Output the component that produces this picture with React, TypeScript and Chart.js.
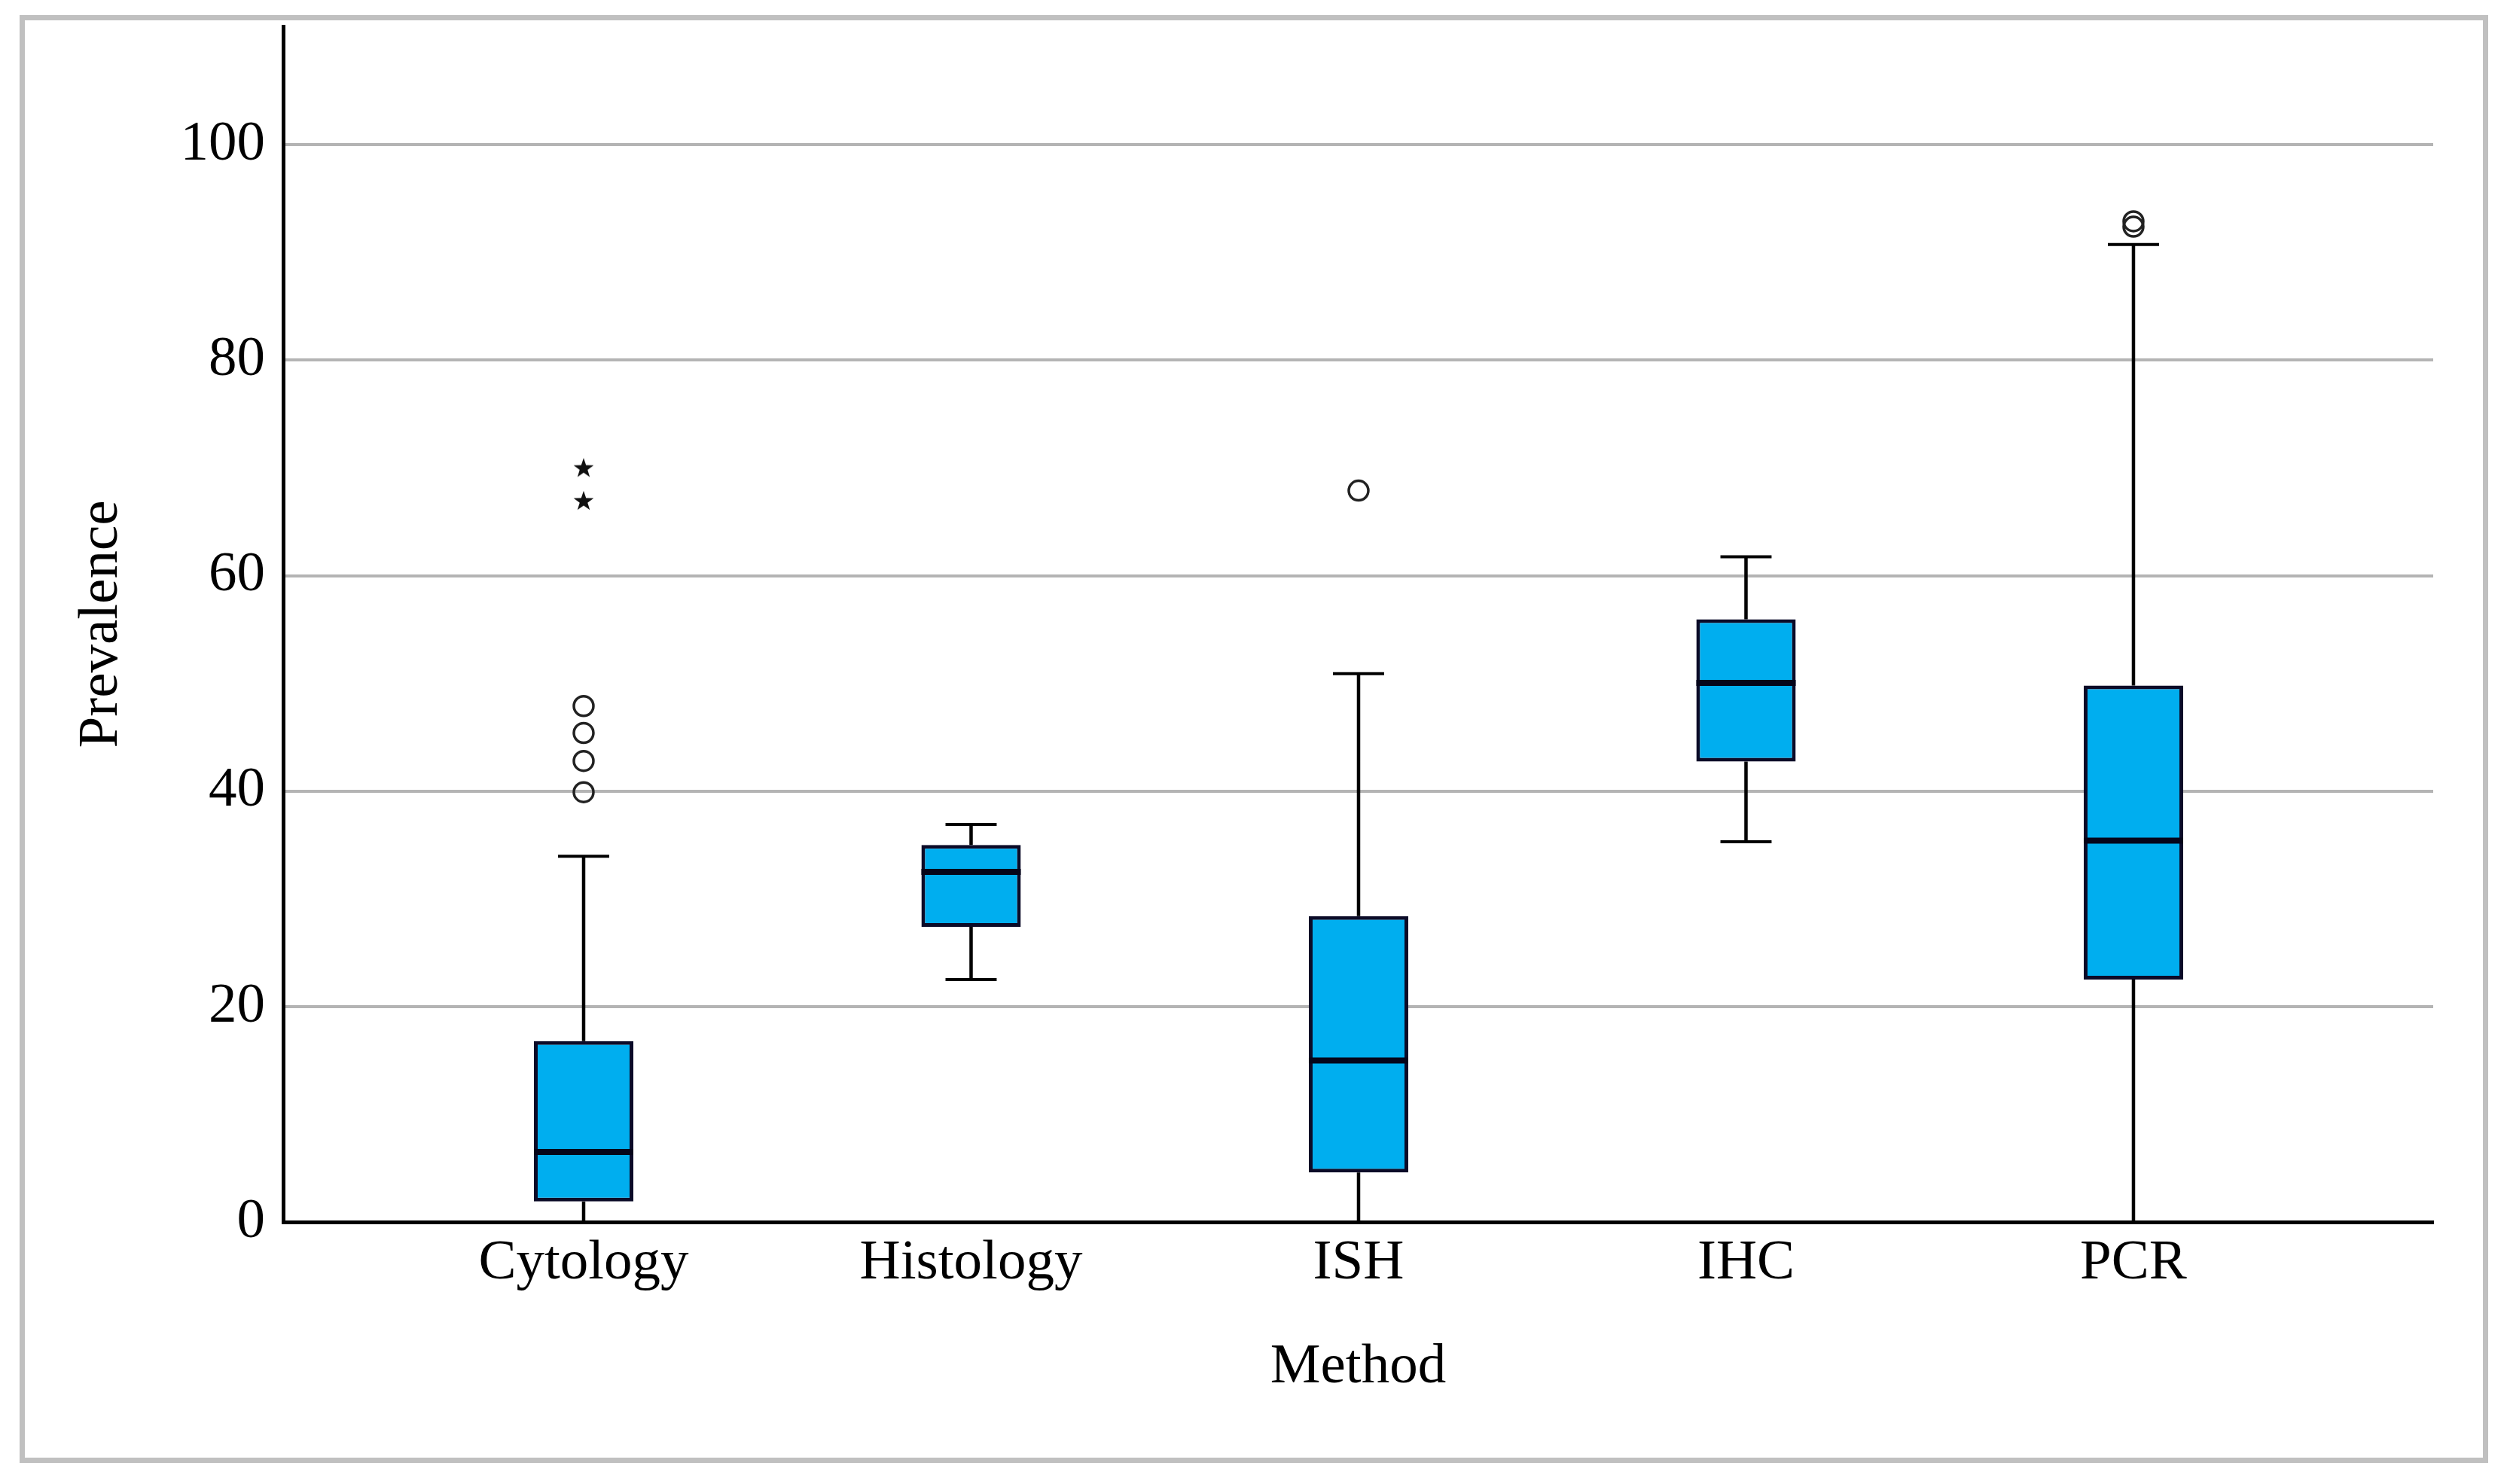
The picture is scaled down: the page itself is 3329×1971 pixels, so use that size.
import React, { useEffect, useRef } from "react";
import { Chart, registerables } from "chart.js";

Chart.register(...registerables);

// ---- data ----
const categories = ["Cytology", "Histology", "ISH", "IHC", "PCR"];
const whiskerLow = [0, 22.5, 0, 35.3, 0];
const q1 = [1.9, 27.4, 4.6, 42.75, 22.5];
const median = [6.5, 32.5, 15.0, 50.05, 35.4];
const q3 = [16.8, 35.0, 28.4, 55.95, 49.8];
const whiskerHigh = [33.95, 36.9, 50.9, 61.75, 90.75];
const outlierCategory = [0, 0, 0, 0, 2, 4, 4];
const outlierValues = [47.9, 45.4, 42.8, 39.9, 67.9, 92.9, 92.4];
const extremeCategory = [0, 0];
const extremeValues = [69.95, 66.9];
const yTicks = [0, 20, 40, 60, 80, 100];

const FONT = "'Palatino Linotype', 'Book Antiqua', Palatino, P052, 'URW Palladio L', 'Liberation Serif', serif";
const BOX_FRACTION = 0.2566;
const BOX_HALF = BOX_FRACTION / 2;
const CAP_HALF = 0.066;

function makeStar(): HTMLCanvasElement {
  const c = document.createElement("canvas");
  c.width = 32;
  c.height = 32;
  const g = c.getContext("2d")!;
  g.fillStyle = "#111";
  g.beginPath();
  for (let k = 0; k < 10; k++) {
    const r = k % 2 === 0 ? 14 : 5.5;
    const a = -Math.PI / 2 + (k * Math.PI) / 5;
    const px = 16 + r * Math.cos(a);
    const py = 16 + r * Math.sin(a);
    if (k === 0) g.moveTo(px, py);
    else g.lineTo(px, py);
  }
  g.closePath();
  g.fill();
  return c;
}

export default function App() {
  const ref = useRef<HTMLCanvasElement | null>(null);

  useEffect(() => {
    if (!ref.current) return;
    const boxData = categories.map((_, i) => ({ x: i, y: [q1[i], q3[i]] }));
    const whiskerData = categories.flatMap((_, i) => [
      { x: i, y: q3[i] },
      { x: i, y: whiskerHigh[i] },
      { x: i, y: null },
      { x: i, y: q1[i] },
      { x: i, y: whiskerLow[i] },
      { x: i, y: null },
    ]);
    const capData = categories.flatMap((_, i) => [
      { x: i - CAP_HALF, y: whiskerHigh[i] },
      { x: i + CAP_HALF, y: whiskerHigh[i] },
      { x: i, y: null },
      { x: i - CAP_HALF, y: whiskerLow[i] },
      { x: i + CAP_HALF, y: whiskerLow[i] },
      { x: i, y: null },
    ]);
    const medianData = categories.flatMap((_, i) => [
      { x: i - BOX_HALF, y: median[i] },
      { x: i + BOX_HALF, y: median[i] },
      { x: i, y: null },
    ]);
    const outlierData = outlierValues.map((v, k) => ({ x: outlierCategory[k], y: v }));
    const extremeData = extremeValues.map((v, k) => ({ x: extremeCategory[k], y: v }));
    const star = makeStar();

    const chart = new Chart(ref.current, {
      type: "bar",
      data: {
        datasets: [
          {
            type: "bar",
            data: boxData as any,
            backgroundColor: "#00AEEF",
            borderColor: "#0B0B28",
            borderWidth: 5,
            borderSkipped: false,
            barPercentage: BOX_FRACTION,
            categoryPercentage: 1,
            order: 5,
          },
          {
            type: "line",
            data: whiskerData as any,
            borderColor: "#000",
            borderWidth: 4.5,
            pointRadius: 0,
            spanGaps: false,
            order: 4,
          },
          {
            type: "line",
            data: capData as any,
            borderColor: "#000",
            borderWidth: 4,
            pointRadius: 0,
            spanGaps: false,
            order: 3,
          },
          {
            type: "line",
            data: medianData as any,
            borderColor: "#05051A",
            borderWidth: 8,
            pointRadius: 0,
            spanGaps: false,
            order: 2,
          },
          {
            type: "scatter",
            data: outlierData as any,
            pointStyle: "circle",
            pointRadius: 13,
            borderWidth: 3.5,
            borderColor: "#222",
            backgroundColor: "rgba(0,0,0,0)",
            order: 1,
          },
          {
            type: "scatter",
            data: extremeData as any,
            pointStyle: star as any,
            pointRadius: 14,
            order: 0,
          },
        ],
      },
      options: {
        animation: false,
        responsive: true,
        maintainAspectRatio: false,
        layout: { padding: { left: 0, top: 35, right: 98, bottom: 0 } },
        plugins: { legend: { display: false }, tooltip: { enabled: false } },
        scales: {
          x: {
            type: "linear",
            min: -0.7755,
            max: 4.7736,
            offset: false,
            grid: { display: false, drawTicks: false },
            border: { display: true, color: "#000", width: 5 },
            afterBuildTicks: (scale: any) => {
              scale.ticks = categories.map((_, i) => ({ value: i }));
            },
            afterFit: (scale: any) => {
              scale.height = 348;
              scale.paddingLeft = 0;
              scale.paddingRight = 0;
            },
            ticks: {
              autoSkip: false,
              maxRotation: 0,
              padding: 10,
              color: "#000",
              font: { family: FONT, size: 75 },
              callback: (v: any) => categories[Math.round(Number(v))] ?? "",
            },
            title: {
              display: true,
              text: "Method",
              color: "#000",
              font: { family: FONT, size: 75 },
              padding: { top: 0, bottom: 110 },
            },
          },
          y: {
            type: "linear",
            min: 0,
            max: 111,
            afterBuildTicks: (scale: any) => {
              scale.ticks = yTicks.map((v) => ({ value: v }));
            },
            afterFit: (scale: any) => {
              scale.width = 376;
              scale.paddingTop = 0;
              scale.paddingBottom = 0;
            },
            grid: {
              drawTicks: false,
              lineWidth: 4,
              color: (ctx: any) => (ctx.tick && ctx.tick.value === 0 ? "#000" : "#B4B4B4"),
            },
            border: { display: true, color: "#000", width: 5 },
            ticks: {
              padding: 24,
              color: "#000",
              font: { family: FONT, size: 75 },
            },
            title: {
              display: true,
              text: "Prevalence",
              color: "#000",
              font: { family: FONT, size: 75 },
              padding: { top: 90, bottom: 0 },
            },
          },
        },
      },
    } as any);
    return () => chart.destroy();
  }, []);

  return (
    <div
      style={{
        position: "fixed",
        left: 0,
        top: 0,
        width: "3329px",
        height: "1971px",
        background: "#fff",
      }}
    >
      <canvas ref={ref} style={{ width: "100%", height: "100%" }} />
      <div
        style={{
          position: "absolute",
          left: "26px",
          top: "20px",
          width: "3278px",
          height: "1923px",
          border: "7px solid #C0C0C0",
          boxSizing: "border-box",
          pointerEvents: "none",
        }}
      />
    </div>
  );
}
